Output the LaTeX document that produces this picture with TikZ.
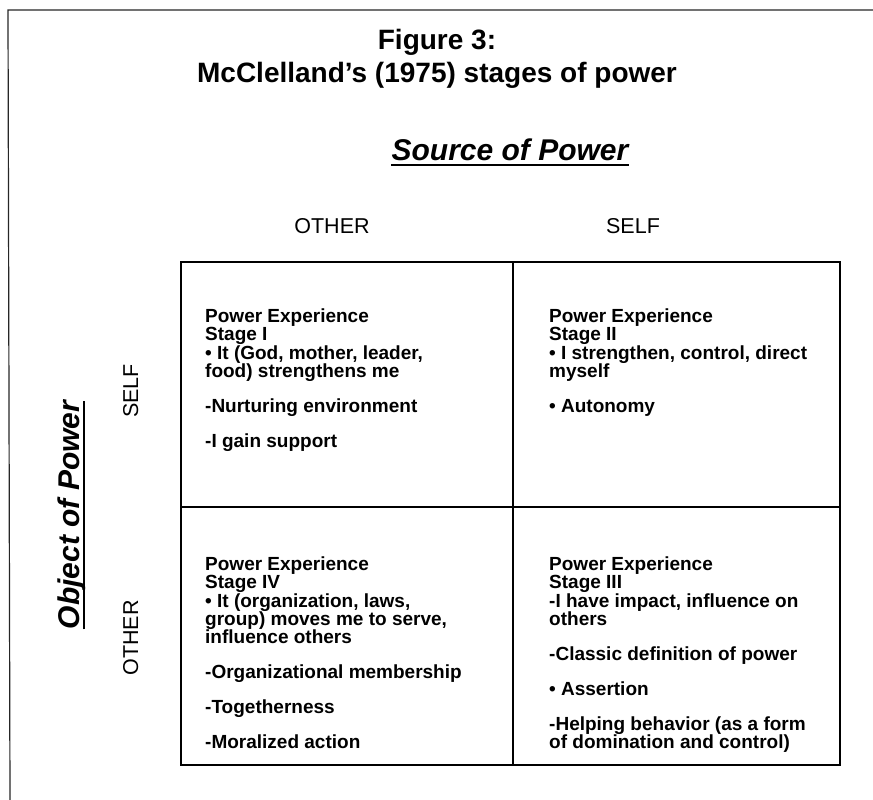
\documentclass[tikz,border=0pt]{standalone}
\usepackage{fontspec}
\setmainfont{Liberation Sans}
\begin{document}
\begin{tikzpicture}[x=1pt,y=-1pt,
  frame/.style={line width=1.2pt, black!85},
  grid/.style={line width=1.6pt},
  titletext/.style={font=\fontsize{28}{33}\selectfont\bfseries, inner sep=0pt, anchor=base},
  axishead/.style={font=\fontsize{30}{34}\selectfont\bfseries\itshape, inner sep=0pt, anchor=base},
  axislabel/.style={font=\fontsize{21.5}{24}\selectfont, inner sep=0pt, anchor=base},
  ul/.style={line width=2.6pt},
  cell/.style={font=\fontsize{19}{18}\selectfont\bfseries, inner sep=0pt, anchor=north west, align=left},
]
\useasboundingbox (0,0) rectangle (873,800);

% page frame (top and left edges)
\coordinate (fTL) at (8,10);
\coordinate (fTR) at (873,10);
\coordinate (fBL) at (10,800);
\draw[frame] (fTR) -- (fTL) -- (fBL);

% title
\node[titletext] (title1) at (437,50) {Figure 3:};
\node[titletext] (title2) at (437,83) {McClelland’s (1975) stages of power};

% horizontal axis heading and labels
\node[axishead] (source) at (510,160) {Source of Power};
\draw[ul] ([yshift=-5pt]source.base west) -- ([yshift=-5pt]source.base east);
\node[axislabel] (colOther) at (332,233) {OTHER};
\node[axislabel] (colSelf) at (633,233) {SELF};

% vertical axis heading and labels
\node[axishead, rotate=90] (object) at (79,515) {Object of Power};
\draw[ul] ([xshift=5pt]object.base west) -- ([xshift=5pt]object.base east);
\node[axislabel, rotate=90] (rowSelf) at (138,391) {SELF};
\node[axislabel, rotate=90] (rowOther) at (138,638) {OTHER};

% the 2x2 grid
\coordinate (gTL) at (181,262);
\coordinate (gBR) at (840,765);
\coordinate (gMT) at (513,262);
\coordinate (gMB) at (513,765);
\coordinate (gML) at (181,507);
\coordinate (gMR) at (840,507);
\draw[grid] (gTL) rectangle (gBR);
\draw[grid] (gMT) -- (gMB);
\draw[grid] (gML) -- (gMR);

% quadrant contents
\node[cell] (stageI) at (205,308) {\rule{0pt}{14pt}Power Experience\\Stage I\\[1pt]
  • It (God, mother, leader,\\food) strengthens me\\[17pt]
  -Nurturing environment\\[17pt]
  -I gain support};

\node[cell] (stageII) at (549,308) {\rule{0pt}{14pt}Power Experience\\Stage II\\[1pt]
  • I strengthen, control, direct\\myself\\[17pt]
  • Autonomy};

\node[cell] (stageIV) at (205,556) {\rule{0pt}{14pt}Power Experience\\Stage IV\\[1pt]
  • It (organization, laws,\\group) moves me to serve,\\influence others\\[17pt]
  -Organizational membership\\[17pt]
  -Togetherness\\[17pt]
  -Moralized action};

\node[cell] (stageIII) at (549,556) {\rule{0pt}{14pt}Power Experience\\Stage III\\[1pt]
  -I have impact, influence on\\others\\[17pt]
  -Classic definition of power\\[17pt]
  • Assertion\\[17pt]
  -Helping behavior (as a form\\of domination and control)};
\end{tikzpicture}
\end{document}
